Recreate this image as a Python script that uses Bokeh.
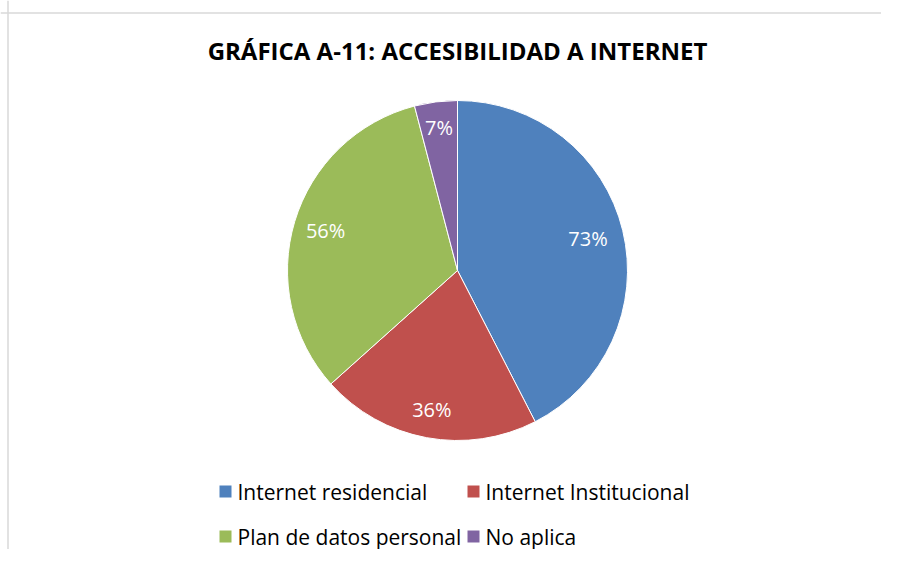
import numpy as np
from bokeh.plotting import figure
from bokeh.models import Range1d, ColumnDataSource, Span
from bokeh.core.properties import value
from bokeh.embed import file_html
from bokeh.resources import INLINE

title = "GRÁFICA A-11: ACCESIBILIDAD A INTERNET"
categories = ["Internet residencial", "Internet Institucional", "Plan de datos personal", "No aplica"]
values = [73, 36, 56, 7]
colors = ["#4F81BD", "#C0504D", "#9BBB59", "#8064A2"]

W, H = 881, 549
# positions expressed in screenshot pixels (y measured from the top)
def py(y):
    return H - y

p = figure(width=W, height=H, output_backend="svg", toolbar_location=None,
           x_range=Range1d(0, W), y_range=Range1d(0, H),
           min_border=0, outline_line_color=None)
p.axis.visible = False
p.grid.visible = False
p.background_fill_color = "white"
p.border_fill_color = "white"

# chart frame (top & left edges visible in the reference)
p.add_layout(Span(location=py(12.5), dimension="width", line_color="#d9d9d9", line_width=1.5))
p.add_layout(Span(location=7.5, dimension="height", line_color="#d9d9d9", line_width=1.5))

cx, cy, r = 457, py(270), 170
vals = np.array(values, dtype=float)
frac = vals / vals.sum()
cum = np.concatenate([[0], np.cumsum(frac)])
start = np.pi / 2 - 2 * np.pi * cum[1:]
end = np.pi / 2 - 2 * np.pi * cum[:-1]
mid = (start + end) / 2
lrad = np.array([0.79, 0.83, 0.81, 0.85]) * r
src = ColumnDataSource(dict(start=start, end=end, color=colors,
                            lx=cx + lrad * np.cos(mid), ly=cy + lrad * np.sin(mid),
                            lab=[f"{v}%" for v in values]))
p.wedge(x=cx, y=cy, radius=r, start_angle="start", end_angle="end", direction="anticlock",
        fill_color="color", line_color="white", line_width=1, source=src)
p.text(x="lx", y="ly", text="lab", source=src, text_color="white",
       text_font=value("Open Sans"), text_font_size="20px",
       text_align="center", text_baseline="middle")

p.text(x=[457], y=[py(50)], text=[title], text_font=value("Open Sans"),
       text_font_style="bold", text_font_size="24px", text_color="black",
       text_align="center", text_baseline="middle")

# legend
lx = [225, 473, 225, 473]
ly = [py(491), py(491), py(536), py(536)]
lsrc = ColumnDataSource(dict(x=lx, y=ly, tx=[v + 12 for v in lx], cat=categories, color=colors))
p.rect(x="x", y="y", width=12, height=12, fill_color="color", line_color=None, source=lsrc)
p.text(x="tx", y="y", text="cat", source=lsrc, text_font=value("Open Sans"),
       text_font_size="21px", text_color="black", text_align="left", text_baseline="middle")

open("out.html", "w").write(file_html(p, INLINE))
